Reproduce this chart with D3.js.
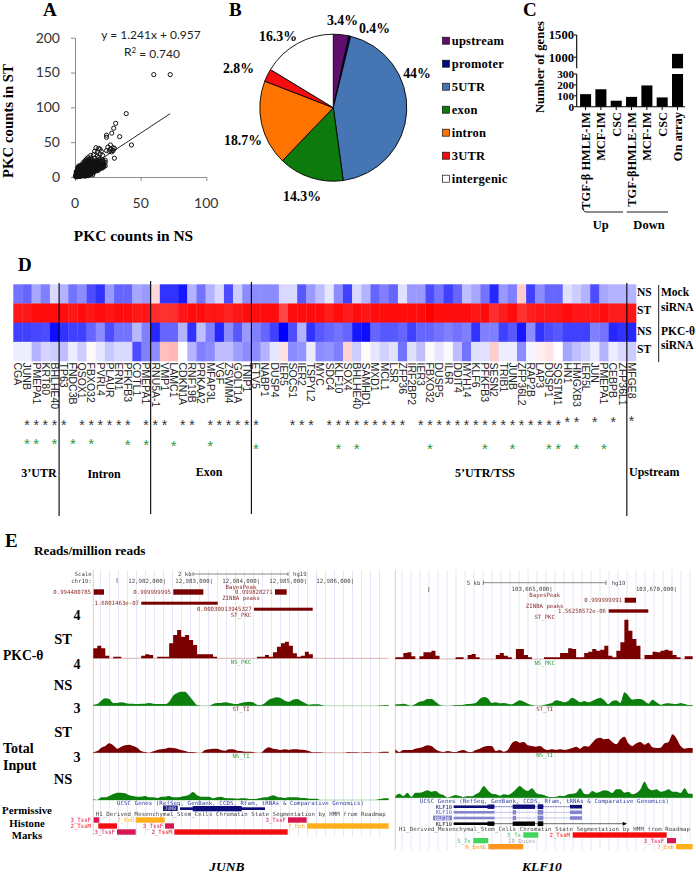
<!DOCTYPE html>
<html><head><meta charset="utf-8">
<script src="https://cdn.jsdelivr.net/npm/d3@7"></script>
<style>html,body{margin:0;padding:0;background:#fff}svg{display:block}text{fill:#000}</style>
</head><body><div id="c"></div>
<script>
// ---------- DATA ----------
const regression = {slope:1.241, intercept:0.957, maxX:72.5};
const scatterPts = [[60,147],[72.5,147],[39,91],[31,77],[29.5,70],[28,63],[24,60],[24,57],[34,58],[43,46],[30,27],
[25,43],[27,46],[29,42],[30,41],[24,38],[26,37],[28,36],[29,38],[27,40],[16,42],[18,41],[19,40],[20,37],[17,36],[15,37],[19,33],[17,30],[21,31],
[12,31],[14,32],[10,28],[12,27],[15,27],[18,28],[13,25],[16,24],[19,25],[21,24],[22,22],[23,24],[21,20],[23,21],[20,18],[22,17],[18,22],[17,19],[19,16],[18,14],[20,13],[16,21],[15,19],[14,22],[13,20],[12,23],[11,25],[9,26],[8,24],[10,23],[7,22],[9,21],[11,20],[6,20],[8,19],[10,18],[12,18],[14,17],[16,16],[17,13],[15,14],[13,15],[11,16],[9,17],[7,18],[5,17],[3,16],[4,14],[6,15],[8,14],[10,14],[12,13],[14,12],[16,11],[15,9],[13,10],[11,11],[9,12],[7,13],[5,12],[3,12],[2,11],[4,10],[6,11],[8,10],[10,9],[12,8],[14,7],[13,5],[11,6],[9,7],[7,8],[5,9],[3,8],[2,7],[1,6],[4,6],[6,7],[8,6],[10,5],[12,4],[13.5,3],[11,3],[9,4],[7,5],[5,5],[3,5],[2,4],[1,3],[0.5,2],[0.3,1],[1,1],[2,2],[3,2],[4,3],[5,3],[6,4],[7,3],[8,3],[9,2],[10,2],[6,2],[5,1.5],[4,1],[3,1],[2,0.6],[1.5,0.4],[0.8,0.3],[7,1.5],[8,1.5],[1,5],[1.5,3],[2.5,3],[3.5,4],[4.5,4],[5.5,6],[6.5,6],[7.5,7],[8.5,8],[9.5,10],[10.5,11],[11.5,10],[12.5,12],[13.5,14],[14.5,15],[15.5,13],[16.5,14],[17.5,16],[18.5,18],[19.5,20],[20.5,22],[6.5,9],[7.5,11],[8.5,12],[9.5,15],[10.5,16],[11.5,18],[12.5,17],[5.5,8],[4.5,7],[3.5,6],[2.5,5],[2,9],[3,10],[4,12],[5,14],[6,13],[7,16],[8,17],[9,19],[10,21],[11,22],[12.5,21],[14,19],[15,17],[17,17],[18,17],[19,19],[16,19],[13,18],[15.5,22],[17.5,24],
[1,2],[1,4],[1,8],[1.5,1.5],[1.5,5],[1.5,7],[2,1],[2,3],[2,5],[2,6],[2,13],[2.5,1.5],[2.5,8],[2.5,10],[2.5,14],[3,3],[3,4],[3,6],[3,7],[3,9],[3,11],[3,14],[3.5,2],[3.5,8],[3.5,10],[3.5,13],[4,2],[4,4],[4,5],[4,7],[4,8],[4,9],[4,11],[4,16],[4.5,2.5],[4.5,5.5],[4.5,9],[4.5,11],[4.5,13],[5,2],[5,4],[5,6],[5,7],[5,8],[5,10],[5,11],[5,13],[5,15],[5.5,3],[5.5,4.5],[5.5,10],[5.5,12],[5.5,16],[6,3],[6,5],[6,6],[6,8],[6,9],[6,10],[6,12],[6,14],[6,17],[6.5,2],[6.5,4],[6.5,7.5],[6.5,11],[6.5,13],[6.5,15],[7,2.5],[7,4],[7,6],[7,7],[7,9],[7,10],[7,11],[7,12],[7,14],[7,15],[7,17],[7.5,3.5],[7.5,5],[7.5,9],[7.5,13],[7.5,16],[7.5,19],[8,2],[8,4],[8,5],[8,7],[8,8],[8,9],[8,11],[8,12],[8,13],[8,15],[8,16],[8,18],[8,21],[8.5,3],[8.5,6],[8.5,10],[8.5,14],[8.5,16],[8.5,20],[9,3],[9,5],[9,6],[9,8],[9,9],[9,10],[9,11],[9,13],[9,14],[9,15],[9,16],[9,18],[9,23],[9.5,4],[9.5,7],[9.5,12],[9.5,17],[9.5,20],[10,3],[10,4],[10,6],[10,7],[10,8],[10,10],[10,11],[10,12],[10,13],[10,15],[10,16],[10,17],[10,19],[10,25],[10.5,5],[10.5,8],[10.5,13],[10.5,18],[10.5,22],[11,4],[11,5],[11,7],[11,8],[11,9],[11,10],[11,12],[11,13],[11,14],[11,15],[11,17],[11,18],[11,19],[11.5,6],[11.5,8],[11.5,12],[11.5,14],[11.5,21],[12,5],[12,6],[12,7],[12,9],[12,10],[12,11],[12,12],[12,14],[12,15],[12,16],[12,19],[12,20],[12.5,7],[12.5,10],[12.5,14],[13,6],[13,7],[13,8],[13,9],[13,11],[13,12],[13,13],[13,14],[13,16],[13,17],[13,22],[13.5,9],[13.5,11],[13.5,16],[14,8],[14,9],[14,10],[14,11],[14,13],[14,14],[14,15],[14,16],[14,20],[14.5,10],[14.5,12],[14.5,18],[15,8],[15,10],[15,11],[15,12],[15,13],[15,15],[15,16],[15,21],[15.5,9],[15.5,15],[15.5,18],[16,9],[16,10],[16,12],[16,13],[16,14],[16,15],[16,17],[16.5,11],[16.5,18],[17,9],[17,11],[17,12],[17,14],[17,15],[17,16],[17,21],[18,10],[18,12],[18,13],[18,15],[18,16],[18,19],[19,12],[19,14],[19,15],[19,17],[20,14],[20,15],[20,16],[20,17],[21,13],[21,15],[21,17],[22,15],[22,19],[23,16]];
const pieLabels = ["upstream","promoter","5UTR","exon","intron","3UTR","intergenic"];
const pieValues = [3.4,0.4,44,14.3,18.7,2.8,16.3];
const pieColors = ["#5f0f6b","#000b82","#4675b3","#0c7a0c","#ff7400","#f70d0d","#ffffff"];
const pieTexts = ["3.4%","0.4%","44%","14.3%","18.7%","2.8%","16.3%"];
const barLabels = ["TGF-β HMLE-IM","MCF-IM","CSC","TGF-βHMLE-IM","MCF-IM","CSC","On array"];
const barValues = [115,160,55,90,195,85,1075];
const genes = ["CGA","JUNB","PMEPA1","KRT80","BHLHE40","TP63","FNDC3B","QSOX1","FBXO32","PVRL4","PLAUR","ERN1","PFKFB3","COTL1","PMEPA1","RNU5A-1","VMP1","LAMC1","CDKN1A","RNF19B","PRKAA2","MFAP3L","VGF","ZSWIM4","GOLT1A","TNIP1","ETV5","NABP1","DUSP4","IER5","SOCS1","IER2","TSPYL2","MYC","SDC4","KLF10","SOX4","BHLHE40","SAMHD1","MXD1","MCL1","LSR","ZFP36","IRF2BP2","IER3","FBXO32","DUSP5","IL6R","DDIT4","MYH14","KLF6","PFKFB3","SESN2","TRIB1","JUNB","ZFP36L2","RAP2B","LAP3","DUSP1","SQSTM1","HN1","HMGXB3","IER5L","JUN","PMEPA1","CEBPB","ZFP36L1","MFGE8"];
const heatNSMock = [-.55,-.6,-.35,-.5,-.15,-.3,-.55,-.45,-.7,-.8,-.4,-.6,-.6,-.35,-.4,.15,-.8,-.8,-.9,-.3,-.55,-.3,-.15,-.7,-.2,-.45,-.45,-.45,-.45,-.15,-.15,-.65,-.4,-.25,-.1,-.45,-.75,-.15,-.3,-.6,-.5,-.6,-.12,-.4,-.4,-.7,-.55,-.75,-.6,-.25,-.35,-.55,-.85,-.4,-.5,.2,-.75,-.45,-.6,-.6,-.12,-.2,-.3,-.7,-.35,-.3,-.3,-.3];
const heatSTMock = [.93,.93,.97,.97,.97,.97,.93,.95,.93,.95,.93,.95,.95,.93,.93,.82,.8,.82,.93,.95,.95,.93,.93,.87,.93,.97,.97,.95,.95,.72,.95,.95,.95,.95,.9,.97,.9,.95,.93,.97,.97,.95,.95,.95,.95,1,.97,.95,.97,.95,.93,.95,.82,.9,.95,.8,.9,.93,.93,.93,.95,.93,.93,.93,.95,.9,.9,.93];
const heatNSPkc = [-.75,-.75,-.72,-.7,-.95,-.8,-.75,-.75,-.6,-.45,-.7,-.55,-.55,-.28,-.5,-.85,-.6,-.6,-.3,-.8,-.25,-.5,-.85,-.45,-.65,-.4,-.5,-.6,-.75,-1,-.7,-.3,-.8,-.65,-.6,-.55,-.6,-.9,-.95,-.6,-.65,-.65,-.6,-.75,-.6,-.6,-.55,-.5,-.55,-.5,-.8,-.5,-.5,-.75,-.65,-.9,-.45,-.8,-.7,-.65,-.75,-.75,-.75,-.5,-.55,-.85,-.8,-.85];
const heatSTPkc = [-.07,-.07,-.3,-.17,-.2,-.25,-.07,-.2,.02,-.1,-.22,-.15,-.15,-.7,-.5,-.45,.25,.28,0,-.3,-.5,-.45,-.25,-.25,-.38,-.45,-.45,-.3,-.1,.12,-.45,-.42,-.08,-.45,-.42,-.5,.18,-.2,.01,-.1,-.18,-.12,-.55,-.12,-.25,.02,-.1,-.02,-.25,-.55,-.12,-.12,.2,-.07,-.07,-.45,-.04,.06,.1,0,-.35,-.25,-.18,-.07,-.3,-.07,-.15,-.2];
const blackStars = [1,2,3,4,5,7,8,9,10,11,12,14,15,16,18,19,21,22,23,24,25,26,30,31,32,34,35,36,37,38,39,40,41,42,44,45,46,47,48,49,50,51,52,53,54,55,56,57,58,59,60,61,63,65,67];
const greenStars = [1,2,4,6,8,12,14,17,21,26,35,37,45,51,54,58,59,61,64];
const groupBreaks = [5,15,26,67];
const groupNames = ["3’UTR","Intron","Exon","5’UTR/TSS","Upstream"];
const junbStPkc = [30,38,30,8,0,5,5,0,0,0,0,0,8,12,10,0,5,5,5,45,70,85,65,70,55,40,12,12,12,12,5,0,0,0,0,0,0,0,0,0,0,5,5,10,5,18,35,45,50,38,15,5,8,20,12,0,0,0,0,0,0,0,0,0,0,0,0,0,0,0,0,0,0,0];
const junbNsPkc = [3,5,15,22,20,8,8,10,8,6,6,5,6,6,8,6,5,5,5,12,30,38,42,42,30,15,2,0,0,0,5,8,8,10,8,6,5,8,10,12,10,3,2,8,18,22,25,22,15,12,18,20,15,8,3,4,4,3,0,0,0,0,0,0,0,0,0,0,0,0,0,0,1,2];
const junbStTi = [2,5,15,20,28,22,12,18,22,24,20,15,5,2,0,4,8,10,12,15,14,12,8,5,2,2,0,0,8,10,12,12,8,6,10,10,6,5,3,3,2,0,0,10,16,12,10,8,10,8,10,10,9,8,5,1,1,1,0,0,0,0,0,0,2,1,1,0,1,1,0,0,2,3];
const junbNsTi = [2,0,8,8,12,18,22,22,20,14,12,10,10,12,8,8,6,10,10,12,8,8,10,12,16,24,14,10,10,10,5,8,10,6,5,5,4,5,5,3,3,4,6,8,10,14,10,8,6,8,8,8,6,6,4,4,4,0,0,0,0,0,0,0,0,0,0,0,0,0,0,1,3,5];
const klfStPkc = [5,5,18,20,8,0,8,20,20,25,10,0,0,0,0,5,5,0,12,15,5,0,0,0,0,12,18,10,5,0,30,30,12,5,0,0,0,5,5,5,5,18,18,32,30,5,5,18,22,30,25,28,40,10,5,25,50,118,85,60,40,0,12,12,22,20,25,28,25,12,5,0,8,8];
const klfNsPkc = [4,4,6,3,0,5,12,14,20,20,12,3,0,0,0,2,2,3,5,6,8,20,26,22,8,10,7,8,6,4,10,16,12,6,2,0,0,2,5,8,16,14,10,14,24,18,10,14,10,14,20,24,16,4,14,16,8,40,30,18,20,20,14,6,18,10,3,6,7,6,5,8,5,2];
const klfStTi = [10,2,8,8,8,12,14,18,22,20,10,4,2,5,3,2,6,8,3,2,8,12,18,20,20,5,8,3,8,28,35,30,32,22,20,18,20,12,8,10,8,10,8,10,14,18,12,20,18,30,42,45,40,42,32,25,40,48,28,20,28,32,24,30,16,14,15,28,32,55,42,20,12,14];
const klfNsTi = [5,12,5,15,3,15,15,18,22,18,20,12,8,0,4,8,5,2,5,4,10,18,35,22,12,10,6,10,8,14,25,35,25,20,28,15,10,8,3,2,3,6,5,10,12,14,28,12,10,20,15,18,22,20,14,25,25,15,18,10,14,25,48,28,22,25,18,20,25,18,18,14,28,12];
const browserLeftTicks = ["12,982,000|","12,983,000|","12,984,000|","12,985,000|","12,986,000|"];
const browserRightTicks = ["103,665,000|","103,670,000|"];

// ---------- HELPERS ----------
const W=696,H=874, TIMES='"Liberation Serif",serif', ARIAL='"Liberation Sans",sans-serif', MONO='"DejaVu Sans Mono",monospace', CAL='Lato,sans-serif';
const svg=d3.select("#c").append("svg").attr("width",W).attr("height",H).attr("viewBox",`0 0 ${W} ${H}`);
const defs=svg.append("defs");
defs.append("filter").attr("id","soft").attr("x","-2%").attr("y","-2%").attr("width","104%").attr("height","104%").append("feGaussianBlur").attr("stdDeviation",0.35);
function txt(g,x,y,s,o={}){const t=g.append("text").attr("x",x).attr("y",y).text(s)
  .attr("font-family",o.f||TIMES).attr("font-size",o.s||13).attr("font-weight",o.w||"bold").attr("text-anchor",o.a||"start").style("fill",o.c||"#000").attr("dy",o.dy||".35em");
  if(o.st)t.attr("font-style",o.st); if(o.ls)t.attr("letter-spacing",o.ls); if(o.rot!==undefined)t.attr("transform",`rotate(${o.rot} ${x} ${y})`); return t;}

// panel letters
txt(svg,43,9.5,"A",{s:19}); txt(svg,229,9.5,"B",{s:19}); txt(svg,523,9.5,"C",{s:19}); txt(svg,18,264,"D",{s:19}); txt(svg,5,540,"E",{s:19});

// ---------- A: scatter ----------
{
 const g=svg.append("g");
 const x=d3.scaleLinear().domain([0,100]).range([75,206.3]);
 const y=d3.scaleLinear().domain([0,200]).range([177,37.7]);
 g.append("g").attr("transform","translate(0,177)").call(d3.axisBottom(x).tickValues([0,50,100]).tickSize(4).tickSizeOuter(0).tickFormat(""));
 g.append("g").attr("transform","translate(75,0)").call(d3.axisLeft(y).tickValues([0,50,100,150,200]).tickSize(4).tickSizeOuter(0).tickFormat(""));
 g.selectAll(".domain,.tick line").attr("stroke","#8c8c8c");
 [0,50,100].forEach(v=>txt(g,x(v),203,v,{f:CAL,s:14,w:"normal",a:"middle",c:"#333"}));
 [0,50,100,150,200].forEach(v=>txt(g,60,y(v),v,{f:CAL,s:14,w:"normal",a:"end",c:"#333"}));
 g.append("g").selectAll("circle").data(scatterPts).join("circle").attr("cx",d=>x(d[0])).attr("cy",d=>y(d[1])).attr("r",2.1).attr("fill","none").attr("stroke","#111").attr("stroke-width",1);
 const line=d3.line().x(d=>x(d)).y(d=>y(regression.slope*d+regression.intercept));
 g.append("path").attr("d",line([0,regression.maxX])).attr("fill","none").attr("stroke","#111").attr("stroke-width",.9);
 txt(g,151,35,"y = 1.241x + 0.957",{f:CAL,s:12,w:"normal",a:"middle",c:"#222"});
 const r=txt(g,152,52,"R",{f:CAL,s:12,w:"normal",a:"middle",c:"#222"});
 r.append("tspan").text("2").attr("font-size",8).attr("dy","-.4em"); r.append("tspan").text(" = 0.740").attr("dy",".4em");
 txt(g,133.5,236,"PKC counts in NS",{s:15.4,a:"middle"});
 txt(g,8,121,"PKC counts in ST",{s:14.8,a:"middle",rot:-90});
}

// ---------- B: pie ----------
{
 const g=svg.append("g").attr("transform","translate(333.3,107.7)");
 const pie=d3.pie().sort(null)(pieValues);
 const arc=d3.arc().innerRadius(0).outerRadius(73.5);
 g.selectAll("path").data(pie).join("path").attr("d",arc).attr("fill",(d,i)=>pieColors[i]).attr("stroke","#000").attr("stroke-width",.9);
 const pos=[[342.5,20],[374.5,28],[417,73],[302,196],[243,140],[238.5,68],[278,36]];
 pieTexts.forEach((t,i)=>txt(svg,pos[i][0],pos[i][1],t,{s:13.8,a:"middle"}));
 const ly=d3.scalePoint().domain(pieLabels).range([40.7,178.7]);
 pieLabels.forEach((l,i)=>{
  svg.append("rect").attr("x",442.5).attr("y",ly(l)-3.5).attr("width",7).attr("height",7).attr("fill",pieColors[i]).attr("stroke","#111").attr("stroke-width",.7);
  txt(svg,451.7,ly(l),l,{s:12.5,ls:.25});
 });
}

// ---------- C: bars with broken axis ----------
{
 const g=svg.append("g");
 const x=d3.scaleBand().domain(d3.range(7)).range([579.6,683.5]).paddingInner(.28).paddingOuter(.03);
 const yLow=d3.scaleLinear().domain([0,300]).range([106.7,74]);
 const yHigh=d3.scaleLinear().domain([750,1500]).range([68.3,35]);
 barValues.forEach((v,i)=>{
   g.append("rect").attr("x",x(i)).attr("width",x.bandwidth()).attr("y",yLow(Math.min(v,300))).attr("height",yLow(0)-yLow(Math.min(v,300))).attr("fill","#000");
   if(v>750) g.append("rect").attr("x",x(i)).attr("width",x.bandwidth()).attr("y",yHigh(v)).attr("height",yHigh(750)-yHigh(v)).attr("fill","#000");
   g.append("line").attr("x1",x(i)+x.bandwidth()/2).attr("x2",x(i)+x.bandwidth()/2).attr("y1",106.7).attr("y2",110).attr("stroke","#000");
   txt(g,x(i)+x.bandwidth()/2,112,barLabels[i],{s:12.4,w:"bold",a:"end",rot:-90});
 });
 g.append("line").attr("x1",576.7).attr("x2",685).attr("y1",106.7).attr("y2",106.7).attr("stroke","#000").attr("stroke-width",1.1);
 [[yLow,74,106.7,[0,100,200,300]],[yHigh,35,68.3,[1000,1500]]].forEach(([s,a,b,t])=>{
  g.append("line").attr("x1",576.7).attr("x2",576.7).attr("y1",a).attr("y2",b).attr("stroke","#000").attr("stroke-width",1.1);
  t.forEach(v=>{g.append("line").attr("x1",574).attr("x2",576.7).attr("y1",s(v)).attr("y2",s(v)).attr("stroke","#000");
   txt(g,574,s(v),v,{s:s===yLow?11.2:12.6,a:"end"});});
 });
 g.append("path").attr("d","M582.7,205 Q582.7,212 586,212 H623 M626.7,212 H668").attr("fill","none").attr("stroke","#000").attr("stroke-width",.9);
 txt(g,600.7,225,"Up",{s:12.5,a:"middle"}); txt(g,649,225,"Down",{s:12.5,a:"middle"});
 txt(g,540,67,"Number of genes",{s:12.6,a:"middle",rot:-90,ls:.1});
}

// ---------- D: heatmap ----------
{
 const g=svg.append("g");
 const x=d3.scaleBand().domain(d3.range(genes.length)).range([13.3,636]);
 const rows=[heatNSMock,heatSTMock,heatNSPkc,heatSTPkc];
 const y=d3.scaleBand().domain(d3.range(4)).range([284.3,361]);
 const col=d3.scaleLinear().domain([-1,0,1]).range(["#0000ff","#ffffff","#ff0000"]);
 rows.forEach((r,ri)=>g.append("g").attr("filter","url(#soft)").selectAll("rect").data(r).join("rect")
   .attr("x",(d,i)=>x(i)).attr("y",y(ri)).attr("width",x.bandwidth()+.3).attr("height",y.bandwidth()+.3).attr("fill",d=>col(d)));
 genes.forEach((n,i)=>txt(g,x(i)+x.bandwidth()/2,362.5,n,{f:ARIAL,s:10.5,w:"normal",rot:90,c:"#222"}));
 const bsY=i=>i==67?417.7:(i>=60?419.5:421.7);
 const gsY=i=>i<10?440:(i<15?441:(i<24?442:445));
 blackStars.forEach(i=>txt(g,x(i)+x.bandwidth()/2,bsY(i),"*",{f:ARIAL,s:14,w:"normal",a:"middle",c:"#333",dy:".57em"}));
 greenStars.forEach(i=>txt(g,x(i)+x.bandwidth()/2,gsY(i),"*",{f:ARIAL,s:15,w:"normal",a:"middle",c:"#2c9a3c",dy:".57em"}));
 [[283,516],[281,514],[282,514],[283,516]].forEach((e,i)=>{
  const px=x(groupBreaks[i]);
  g.append("line").attr("x1",px).attr("x2",px).attr("y1",e[0]).attr("y2",e[1]).attr("stroke","#000").attr("stroke-width",1.1);});
 const gp=[[39,473],[104,474],[209,472],[485,473],[629,472]];
 groupNames.forEach((n,i)=>txt(g,gp[i][0],gp[i][1],n,{s:12,a:i==4?"start":"middle"}));
 [["NS",292],["ST",310],["NS",331],["ST",349]].forEach(d=>txt(g,637,d[1],d[0],{s:11.5}));
 g.append("line").attr("x1",658.7).attr("x2",658.7).attr("y1",285).attr("y2",362).attr("stroke","#000").attr("stroke-width",.9);
 [["Mock",292],["siRNA",307],["PKC-θ",331],["siRNA",345]].forEach(d=>txt(g,661,d[1],d[0],{s:11.5}));
}

// ---------- E: browser tracks ----------
{
 const LM={f:MONO,s:5.7,w:"normal"};
 const maroon="#8f2a2a", green="#2f9a3a", dk="#444", navy="#2f3f9f";
 const g=svg.append("g").attr("filter","url(#soft)");
 const sig=d3.scaleLinear().domain([0,129]).range([0,43]);
 const gridL=d3.range(100.5,388,9), gridR=d3.range(402,692,9);
 g.append("g").selectAll("line").data(gridL).join("line").attr("x1",d=>d).attr("x2",d=>d).attr("y1",570).attr("y2",836).attr("stroke","#dfe0f6").attr("stroke-width",.8);
 g.append("g").selectAll("line").data(gridR).join("line").attr("x1",d=>d).attr("x2",d=>d).attr("y1",570).attr("y2",850).attr("stroke","#dfe0f6").attr("stroke-width",.8);
 [[93.3,836],[395.3,850]].forEach(d=>g.append("line").attr("x1",d[0]).attr("x2",d[0]).attr("y1",570).attr("y2",d[1]).attr("stroke","#f6c4c4").attr("stroke-width",1));
 function track(vals,x0,x1,base,color,lineCol,curve){
  const x=d3.scaleLinear().domain([0,vals.length]).range([x0,x1]);
  const a=d3.area().x((d,i)=>x(i)).y0(base).y1(d=>base-sig(d)).curve(curve);
  const pts=vals.concat([vals[vals.length-1]]);
  g.append("line").attr("x1",x0).attr("x2",x1).attr("y1",base).attr("y2",base).attr("stroke",lineCol).attr("stroke-width",.8);
  g.append("path").attr("d",a(pts)).attr("fill",color);
 }
 const M="#7a0000",G="#0b7f0b";
 track(junbStPkc,93.3,388.7,658.3,M,"#cfa0a0",d3.curveStepAfter);
 track(junbNsPkc,93.3,388.7,705.7,G,"#a0cfa0",d3.curveMonotoneX);
 track(junbStTi,93.3,388.7,752.7,M,"#cfa0a0",d3.curveMonotoneX);
 track(junbNsTi,93.3,388.7,800,G,"#a0cfa0",d3.curveMonotoneX);
 track(klfStPkc,395.3,692.7,659,M,"#cfa0a0",d3.curveStepAfter);
 track(klfNsPkc,395.3,692.7,705.7,G,"#a0cfa0",d3.curveMonotoneX);
 track(klfStTi,395.3,692.7,752.7,M,"#cfa0a0",d3.curveMonotoneX);
 track(klfNsTi,395.3,692.7,797.7,G,"#a0cfa0",d3.curveMonotoneX);

 // left header
 txt(g,91.7,574,"Scale",{...LM,a:"end",c:dk}); txt(g,91.7,580.7,"chr19:",{...LM,a:"end",c:dk});
 txt(g,178,574,"2 kb",{...LM,c:dk}); txt(g,293,574,"hg19",{...LM,c:dk});
 g.append("path").attr("d","M193,572V576M193,574H288M288,572V576").attr("stroke","#555").attr("fill","none").attr("stroke-width",.7);
 g.append("line").attr("x1",117).attr("x2",117).attr("y1",578).attr("y2",583).attr("stroke","#555").attr("stroke-width",.7);
 const lx=d3.scalePoint().domain(browserLeftTicks).range([166,354]);
 browserLeftTicks.forEach(t=>txt(g,lx(t),581,t,{...LM,a:"end",c:dk}));
 const rr=(x0,x1,y0,y1,c)=>g.append("rect").attr("x",x0).attr("y",y0).attr("width",x1-x0).attr("height",y1-y0).attr("fill",c);
 txt(g,241,587,"BayesPeak",{...LM,a:"middle",c:maroon}); txt(g,241,597.7,"ZINBA peaks",{...LM,a:"middle",c:maroon});
 txt(g,241,615,"ST_PKC",{...LM,a:"middle",c:maroon}); txt(g,241,662,"NS_PKC",{...LM,a:"middle",c:green});
 txt(g,241,709,"ST_TI",{...LM,a:"middle",c:maroon}); txt(g,241,756,"NS_TI",{...LM,a:"middle",c:green});
 [[91,592,"0.994400785"],[171,592,"0.999999995"],[272.7,592,"0.999828271"],[139,603.3,"1.68014​63e-07"],[251.7,609.3,"0.00030913945327"]].forEach(d=>txt(g,d[0],d[1],d[2].replace("\u200b",""),{...LM,a:"end",c:maroon}));
 rr(93.7,104,589.3,594.7,"#7a0000");rr(173.3,203.3,589.3,594.7,"#7a0000");rr(275,286.7,589.3,594.7,"#7a0000");
 rr(141.3,217.7,601.7,604.7,"#7a0000");rr(254,312.7,607.7,610.7,"#7a0000");
 // right header
 txt(g,466.7,582.7,"5 kb",{...LM,c:dk}); txt(g,611.7,582.7,"hg19",{...LM,c:dk});
 g.append("path").attr("d","M483.3,580.5V585M483.3,582.7H606M606,580.5V585").attr("stroke","#555").attr("fill","none").attr("stroke-width",.7);
 g.append("line").attr("x1",428.7).attr("x2",428.7).attr("y1",587).attr("y2",592).attr("stroke","#555").attr("stroke-width",.7);
 txt(g,552.7,589.3,browserRightTicks[0],{...LM,a:"end",c:dk}); txt(g,677,589.3,browserRightTicks[1],{...LM,a:"end",c:dk});
 txt(g,544.7,595,"BayesPeak",{...LM,a:"middle",c:maroon}); txt(g,544.7,606,"ZINBA peaks",{...LM,a:"middle",c:maroon});
 txt(g,544.7,616.7,"ST_PKC",{...LM,a:"middle",c:maroon}); txt(g,544.7,662.7,"NS_PKC",{...LM,a:"middle",c:green});
 txt(g,544.7,709,"ST_TI",{...LM,a:"middle",c:maroon}); txt(g,544.7,755,"NS_TI",{...LM,a:"middle",c:green});
 txt(g,622,600.3,"0.999999991",{...LM,a:"end",c:maroon}); rr(624.7,636,597.7,602.7,"#7a0000");
 txt(g,606,611,"1.56258572e-06",{...LM,a:"end",c:maroon}); rr(608.7,648.3,609.3,612.7,"#7a0000");
 // left gene & chromatin
 txt(g,117,803,"UCSC Genes (RefSeq, GenBank, CCDS, Rfam, tRNAs & Comparative Genomics)",{...LM,s:5.7,c:navy}).attr("textLength",247);
 rr(163,177.7,805.5,811,"#1a1a80"); txt(g,170.3,808.3,"JUNB",{...LM,s:4.8,a:"middle",c:"#dde"});
 rr(180,265,807.3,810,"#10107a"); rr(192.7,241.7,806,811.3,"#10107a");
 txt(g,95.7,814.3,"H1_Derived_Mesenchymal_Stem_Cells Chromatin State Segmentation by HMM from Roadmap",{...LM,c:dk}).attr("textLength",290);
 const cr="#d8174f",rd="#f50d0d",og="#ffb01e",og2="#ff951e",gn="#3fd45c";
 [[91,820,"3_TssF",cr],[134.3,820,"7_Enh",og],[286,820,"3_TssF",cr],[91,826,"2_TssM",rd],[163.3,826,"3_TssF",cr],[305,826,"7_Enh",og],[115,832,"3_TssF",cr],[172,832,"2_TssM",rd]].forEach(d=>txt(g,d[0],d[1],d[2],{...LM,a:"end",c:d[3]}));
 rr(93.7,99.3,817.3,822.7,cr);rr(135.7,164.7,817.3,822.7,og);rr(288,306.7,817.3,822.7,cr);
 rr(98.3,117,823.3,828.7,rd);rr(165,174,823.3,828.7,cr);rr(307,388.7,823.3,828.7,og);
 rr(117,135.7,829.3,834.7,cr);rr(174.3,287.7,829.3,834.7,rd);
 // right gene & chromatin
 txt(g,420,801,"UCSC Genes (RefSeq, GenBank, CCDS, Rfam, tRNAs & Comparative Genomics)",{...LM,c:navy}).attr("textLength",249);
 const gy=[806.7,812.3,818,823.7], gc=["#10107a","#8585cf","#8585cf","#000"];
 gy.forEach((y,i)=>{
   if(i==2){rr(433,452,y-2.4,y+2.4,"#8585cf");txt(g,442.5,y,"KLF10",{...LM,s:4.8,a:"middle",c:"#fff"});}
   else txt(g,452,y,"KLF10",{...LM,s:5.4,a:"end",c:i==3?"#222":(i==0?"#10107a":"#6a6ac0")});
   const c=gc[i], end=i==3?623:582;
   g.append("line").attr("x1",453.7).attr("x2",end).attr("y1",y).attr("y2",y).attr("stroke",c).attr("stroke-width",.6).attr("stroke-dasharray",i==3?"none":"2 .6");
   rr(453.7,494.3,y-1.3,y+1.3,c);
   rr(i==0||i==3?487.5:494,494.3,y-2.2,y+2.2,c);
   rr(512.7,i==0||i==3?535:516,y-2.2,y+2.2,c);
   rr(537.7,543.3,y-2.4,y+2.4,c);
   if(i<3) rr(570,582,y-1.8,y+1.8,c);
 });
 g.append("path").attr("d","M622.7,821.7L627,823.7L622.7,825.7Z").attr("fill","#000");
 txt(g,399,829.3,"H1_Derived_Mesenchymal_Stem_Cells Chromatin State Segmentation by HMM from Roadmap",{...LM,c:dk}).attr("textLength",291);
 [[521,835,"5_Tx","#3fc45c"],[570,835,"2_TssM",rd],[471,840.7,"5_Tx","#3fc45c"],[664.3,840.7,"3_TssF",cr],[486,846.7,"6_EnhG",og2],[674.3,846.7,"7_Enh",og2]].forEach(d=>txt(g,d[0],d[1],d[2],{...LM,a:"end",c:d[3]}));
 txt(g,521.7,840.7,"10_Quies",{...LM,a:"middle",c:"#aaa"});
 rr(523.3,538.3,832.3,837.7,gn);rr(572.7,666.7,832.3,837.7,rd);
 rr(473.3,488.3,838,843.3,gn);rr(667,676,838,843.3,cr);
 rr(488.3,523.3,844,849.3,og2);rr(676,692.7,844,849.3,og);
}
// E side labels
{
 const g=svg;
 txt(g,34,550,"Reads/million reads",{s:13.2});
 [["4",615],["4",664],["3",708],["3",757]].forEach(d=>txt(g,77,d[1],d[0],{s:14,a:"middle"}));
 [["ST",639],["NS",685],["ST",732],["NS",779]].forEach(d=>txt(g,63,d[1],d[0],{s:14.5,a:"middle"}));
 txt(g,3,655,"PKC-θ",{s:13.6});
 txt(g,3,748,"Total",{s:14}); txt(g,3,765,"Input",{s:14});
 txt(g,27,810,"Permissive",{s:10.8,a:"middle"}); txt(g,27,823,"Histone",{s:10.8,a:"middle"}); txt(g,27,835.5,"Marks",{s:10.8,a:"middle"});
 txt(g,227,866,"JUNB",{s:13.5,a:"middle",st:"italic"}); txt(g,542,866,"KLF10",{s:13.5,a:"middle",st:"italic"});
}
</script></body></html>
